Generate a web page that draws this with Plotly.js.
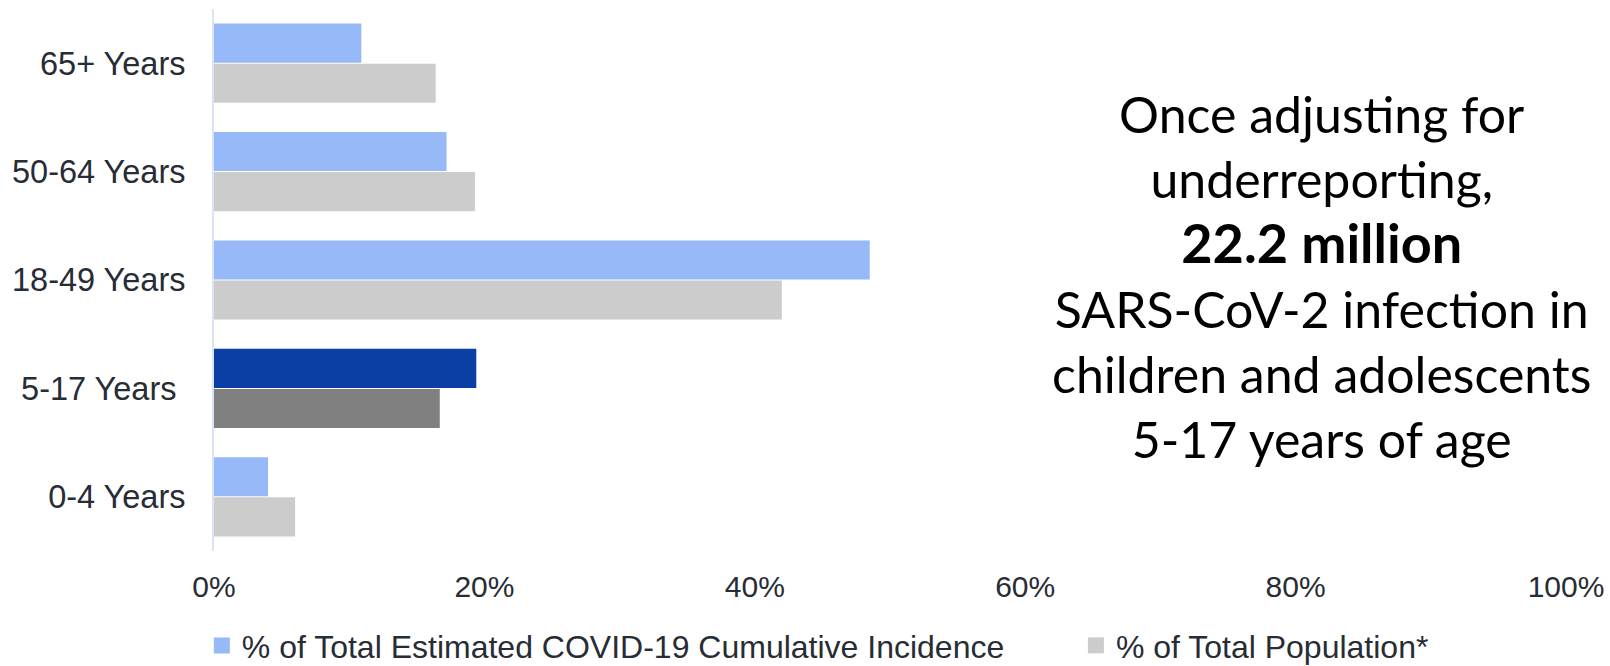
<!DOCTYPE html>
<html>
<head>
<meta charset="utf-8">
<script src="https://cdn.plot.ly/plotly-3.0.1.min.js"></script>
<style>
  html, body { margin: 0; padding: 0; background: #ffffff; }
  #chart { width: 1610px; height: 666px; }
</style>
</head>
<body>
<div id="chart"></div>
<script>
// Age groups, listed top to bottom
const categories = ["65+ Years", "50-64 Years", "18-49 Years", "5-17 Years", "0-4 Years"];
const tickLabels = ["65+ Years", "50-64 Years", "18-49 Years", "5-17 Years\u00a0", "0-4 Years"];

// Share of estimated cumulative COVID-19 incidence (fraction)
const incidenceShare = [0.109, 0.172, 0.485, 0.194, 0.040];
// Share of total population (fraction)
const populationShare = [0.164, 0.193, 0.420, 0.167, 0.060];

// The 5-17 group is emphasised
const highlightGroup = "5-17 Years";

const seriesNames = ["% of Total Estimated COVID-19 Cumulative Incidence", "% of Total Population*"];

const xTicks = [0, 0.2, 0.4, 0.6, 0.8, 1.0];

const calloutLines = [
  "Once adjusting for",
  "underreporting,",
  "<b><span style=\"font-size:54px\">22.2 million</span></b>",
  "SARS-CoV-2 infection in",
  "children and adolescents",
  "5-17 years of age"
];

const blueLight = "#97b9f7", blueDark = "#0b3fa4";
const greyLight = "#cccccc", greyDark = "#808080";

const incidenceColors = categories.map(c => c === highlightGroup ? blueDark : blueLight);
const populationColors = categories.map(c => c === highlightGroup ? greyDark : greyLight);

const traces = [
  {
    type: "bar", orientation: "h",
    name: seriesNames[0], legendgroup: "inc", showlegend: false,
    y: categories, x: incidenceShare,
    marker: { color: incidenceColors },
    hoverinfo: "y+x"
  },
  {
    type: "bar", orientation: "h",
    name: seriesNames[1], legendgroup: "pop", showlegend: false,
    y: categories, x: populationShare,
    marker: { color: populationColors },
    hoverinfo: "y+x"
  },
  // Legend keys: larger square swatches than the default bar key
  {
    type: "scatter", mode: "markers",
    name: seriesNames[0], legendgroup: "inc", legend: "legend",
    x: [null], y: [null],
    marker: { symbol: "square", size: 16, color: blueLight },
    hoverinfo: "skip"
  },
  {
    type: "scatter", mode: "markers",
    name: seriesNames[1], legendgroup: "pop", legend: "legend2",
    x: [null], y: [null],
    marker: { symbol: "square", size: 16, color: greyLight },
    hoverinfo: "skip"
  }
];

const textColor = "#272c35";
const fontFamily = "Liberation Sans, Arial, sans-serif";
const xTickFont = { family: fontFamily, size: 30, color: textColor };
const yTickFont = { family: fontFamily, size: 32.5, color: textColor };
const legendFont = { family: fontFamily, size: 32, color: textColor };

const layout = {
  width: 1610, height: 666,
  margin: { l: 213.5, r: 44, t: 9, b: 115, autoexpand: false },
  paper_bgcolor: "#ffffff", plot_bgcolor: "#ffffff",
  font: xTickFont,
  barmode: "group",
  bargap: 0.26,
  bargroupgap: 0.025,
  showlegend: true,
  legend: {
    orientation: "h",
    x: -0.009, xanchor: "left",
    y: -0.1745, yanchor: "middle",
    bgcolor: "rgba(0,0,0,0)",
    font: legendFont
  },
  legend2: {
    orientation: "h",
    x: 0.6375, xanchor: "left",
    y: -0.1745, yanchor: "middle",
    bgcolor: "rgba(0,0,0,0)",
    font: legendFont
  },
  xaxis: {
    range: [0, 1],
    tickvals: xTicks,
    tickformat: ".0%",
    showgrid: false, zeroline: false, showline: false,
    ticks: "",
    ticklabelstandoff: 15,
    tickfont: xTickFont,
    fixedrange: true
  },
  yaxis: {
    type: "category",
    categoryorder: "array", categoryarray: categories,
    tickvals: categories, ticktext: tickLabels,
    autorange: "reversed",
    showgrid: false, zeroline: false,
    showline: true, linecolor: "#d9e5f7", linewidth: 2,
    ticks: "",
    ticklabelstandoff: 20,
    tickfont: yTickFont,
    fixedrange: true
  },
  annotations: [{
    xref: "paper", yref: "paper",
    x: 0.819, y: 0.507,
    xanchor: "center", yanchor: "middle",
    align: "center",
    showarrow: false,
    text: calloutLines.join("<br>"),
    font: { family: "Lato, Noto Sans, sans-serif", size: 50, color: "#000000" }
  }]
};

Plotly.newPlot("chart", traces, layout, { displayModeBar: false });
</script>
</body>
</html>
